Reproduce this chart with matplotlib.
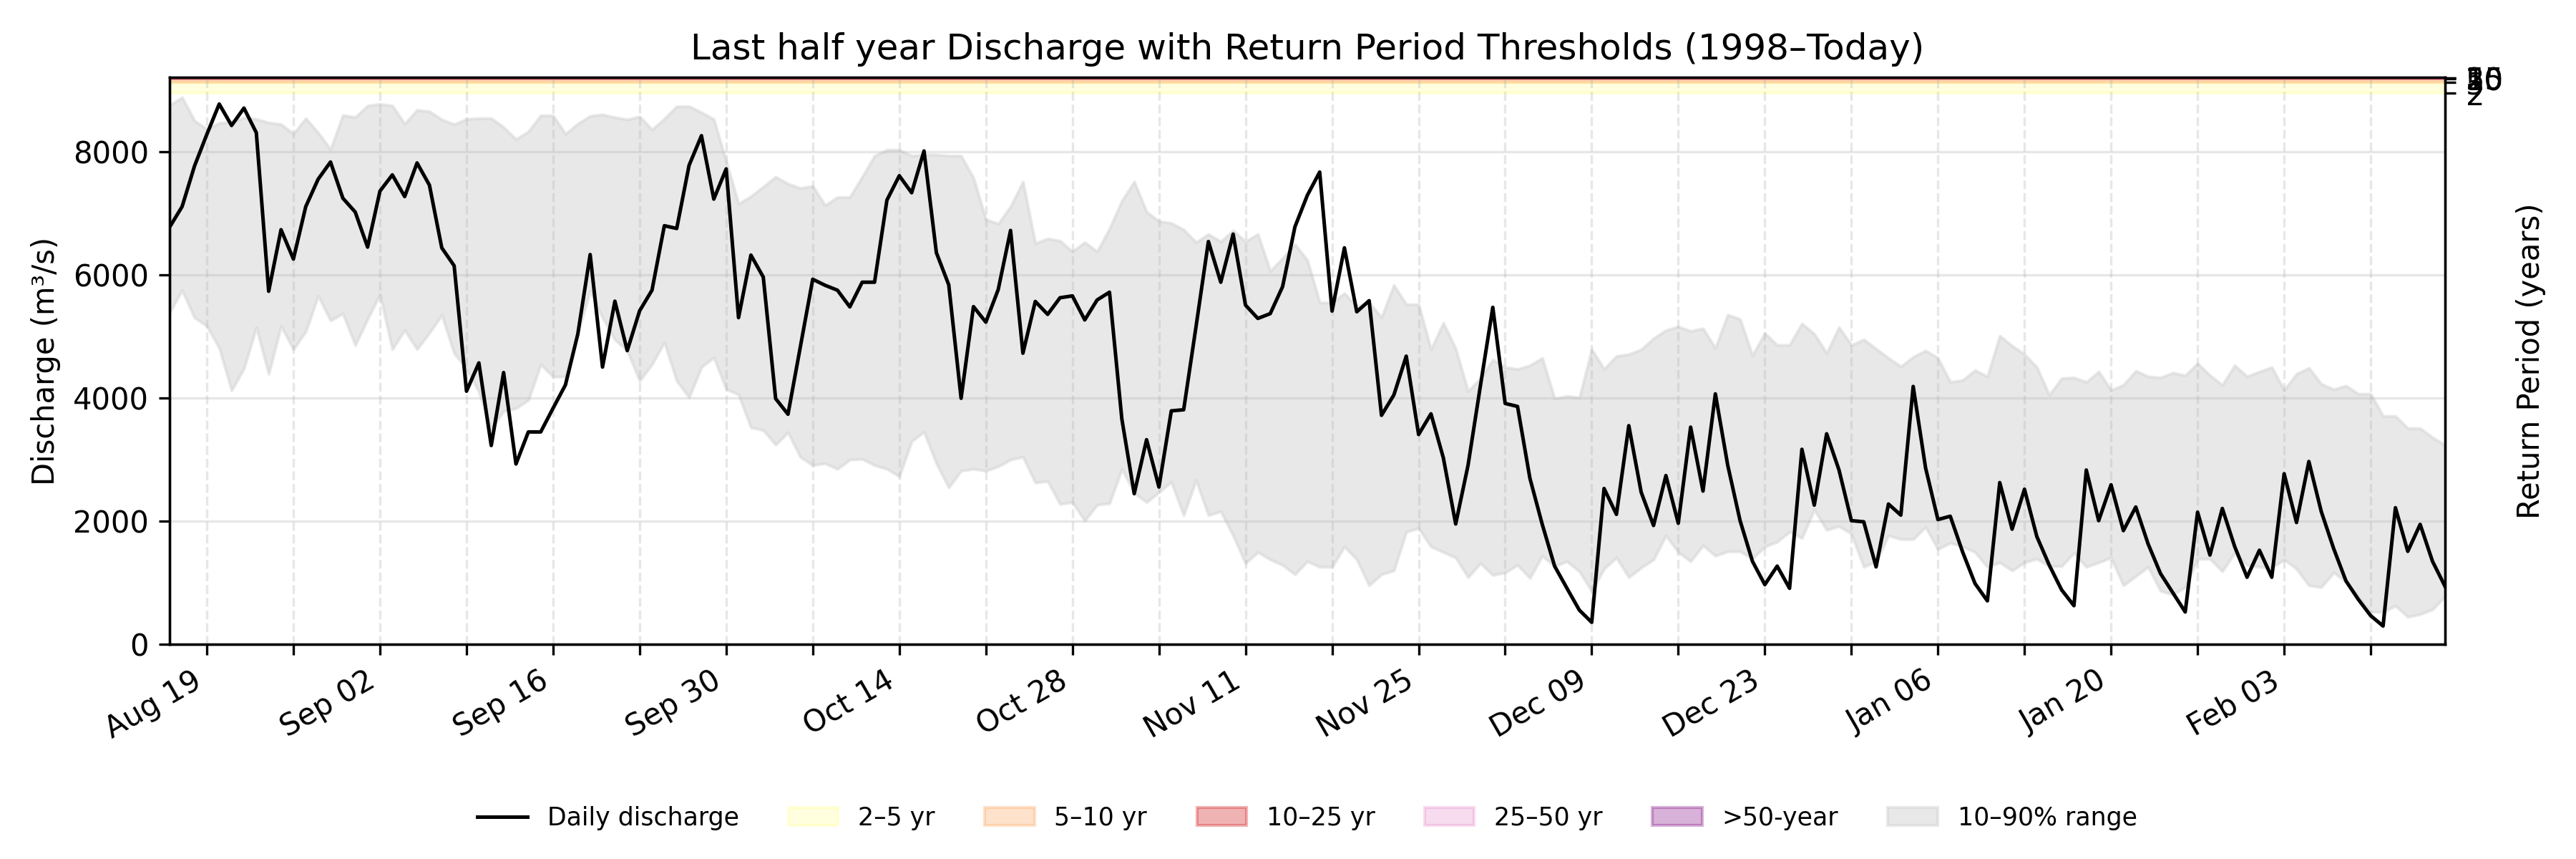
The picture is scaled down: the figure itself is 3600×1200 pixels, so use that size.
import numpy as np
import pandas as pd
import matplotlib
matplotlib.use("Agg")
import matplotlib.pyplot as plt
from matplotlib.lines import Line2D
from matplotlib.patches import Patch

# Daily series, 2024-08-16 .. 2025-02-16
start_date = "2024-08-16"

discharge = [
    6778, 7108, 7765, 8280, 8772, 8424, 8706, 8307, 5733, 6732,
    6256, 7108, 7552, 7831, 7243, 7019, 6450, 7359, 7622, 7270,
    7816, 7456, 6438, 6147, 4111, 4570, 3230, 4414, 2930, 3450,
    3450, 3835, 4213, 5037, 6329, 4503, 5572, 4770, 5416, 5750,
    6797, 6752, 7777, 8258, 7229, 7719, 5305, 6320, 5964, 3991,
    3737, 4833, 5928, 5830, 5750, 5480, 5880, 5880, 7212, 7608,
    7332, 8010, 6360, 5838, 3996, 5484, 5232, 5760, 6720, 4728,
    5568, 5358, 5628, 5658, 5268, 5592, 5718, 3660, 2448, 3324,
    2556, 3792, 3810, 5160, 6540, 5880, 6660, 5508, 5292, 5370,
    5808, 6780, 7290, 7668, 5412, 6438, 5400, 5580, 3720, 4050,
    4680, 3408, 3744, 3030, 1956, 2910, 4200, 5472, 3912, 3864,
    2700, 1950, 1272, 912, 558, 360, 2532, 2112, 3552, 2472,
    1932, 2742, 1968, 3528, 2490, 4068, 2910, 2010, 1350, 972,
    1272, 912, 3168, 2262, 3420, 2832, 2010, 1992, 1260, 2280,
    2100, 4188, 2868, 2028, 2082, 1500, 990, 708, 2628, 1872,
    2520, 1752, 1290, 888, 630, 2832, 2010, 2592, 1848, 2232,
    1632, 1152, 840, 528, 2148, 1452, 2208, 1590, 1092, 1530,
    1092, 2772, 1980, 2970, 2160, 1560, 1032, 732, 468, 300,
    2220, 1512, 1950, 1350, 948,
]

q90 = [
    8753, 8880, 8501, 8365, 8462, 8481, 8552, 8528, 8470, 8443,
    8288, 8540, 8307, 8036, 8590, 8559, 8745, 8772, 8745, 8451,
    8675, 8652, 8521, 8443, 8528, 8540, 8540, 8397, 8199, 8327,
    8586, 8586, 8288, 8451, 8579, 8601, 8556, 8521, 8570, 8356,
    8534, 8734, 8734, 8636, 8525, 7839, 7153, 7273, 7429, 7590,
    7478, 7407, 7440, 7128, 7260, 7260, 7590, 7932, 8028, 8028,
    7932, 7950, 7950, 7932, 7932, 7572, 6900, 6828, 7110, 7512,
    6510, 6588, 6552, 6378, 6528, 6378, 6750, 7200, 7512, 7020,
    6870, 6840, 6732, 6528, 6660, 6540, 6720, 6540, 6660, 6060,
    6270, 6492, 6240, 5550, 5550, 5700, 5490, 5550, 5310, 5832,
    5520, 5520, 4788, 5220, 4800, 4110, 4320, 4620, 4500, 4470,
    4530, 4650, 3990, 4032, 4008, 4788, 4470, 4680, 4710, 4788,
    4968, 5100, 5160, 5088, 5130, 4812, 5352, 5280, 4692, 5052,
    4860, 4860, 5208, 5040, 4728, 5148, 4860, 4950, 4800, 4650,
    4512, 4668, 4770, 4650, 4260, 4290, 4452, 4350, 5010, 4848,
    4710, 4500, 4050, 4320, 4332, 4260, 4428, 4128, 4212, 4440,
    4350, 4332, 4410, 4368, 4560, 4368, 4212, 4530, 4350, 4428,
    4500, 4128, 4392, 4488, 4230, 4140, 4200, 4068, 4068, 3708,
    3708, 3510, 3510, 3360, 3240,
]

q10 = [
    5394, 5750, 5305, 5171, 4815, 4125, 4481, 5149, 4392, 5171,
    4793, 5082, 5661, 5260, 5372, 4859, 5283, 5683, 4793, 5104,
    4793, 5060, 5349, 4726, 4481, 4102, 3501, 3790, 3835, 3968,
    4548, 4347, 4347, 5060, 5741, 5305, 4948, 4770, 4280, 4548,
    4904, 4280, 4013, 4503, 4659, 4147, 4058, 3523, 3480, 3244,
    3444, 3044, 2910, 2940, 2850, 3000, 3012, 2910, 2850, 2730,
    3300, 3450, 2940, 2550, 2820, 2850, 2820, 2892, 3000, 3048,
    2628, 2652, 2280, 2310, 2010, 2268, 2292, 2850, 2460, 2310,
    2472, 2640, 2100, 2670, 2100, 2160, 1770, 1320, 1500, 1380,
    1290, 1140, 1350, 1260, 1260, 1590, 1380, 960, 1140, 1200,
    1830, 1890, 1590, 1500, 1410, 1092, 1320, 1128, 1170, 1290,
    1080, 1440, 1272, 1350, 1188, 870, 1230, 1410, 1092, 1248,
    1380, 1770, 1500, 1350, 1608, 1440, 1512, 1512, 1392, 1590,
    1668, 1830, 1728, 2190, 1860, 1920, 1800, 1260, 1350, 1770,
    1710, 1710, 1908, 1548, 1650, 1590, 1500, 1260, 1332, 1200,
    1332, 1392, 1272, 1272, 1488, 1260, 1332, 1410, 960, 1110,
    1260, 870, 810, 930, 1392, 1392, 1188, 1488, 1290, 1260,
    1248, 1380, 1230, 960, 930, 1170, 1020, 780, 528, 528,
    630, 450, 492, 570, 780,
]

# Return period thresholds (m3/s)
rp_years = [2, 5, 10, 25, 50]
rp_values = [8945, 9120, 9180, 9192, 9198]
band_labels = ["2–5 yr", "5–10 yr", "10–25 yr", "25–50 yr", ">50-year"]
band_colors = ["yellow", "#fdae6b", "tab:red", "#e377c2", "purple"]
band_alphas = [0.12, 0.35, 0.35, 0.25, 0.3]
y_top = 9200

dates = pd.date_range(start_date, periods=len(discharge), freq="D")

fig = plt.figure(figsize=(12, 4), dpi=300)
ax = fig.add_subplot(111)
fig.subplots_adjust(left=0.0659, right=0.9491, top=0.9096, bottom=0.2497)

# threshold bands
edges = rp_values + [y_top]
for k in range(len(rp_values)):
    ax.axhspan(edges[k], edges[k + 1], color=band_colors[k], alpha=band_alphas[k])

ax.fill_between(dates, q10, q90, color="lightgray", alpha=0.5)
ax.plot(dates, discharge, color="black", linewidth=1.2)

ax.set_xlim(dates[0], dates[-1])
ax.set_ylim(0, y_top)
ax.set_yticks([0, 2000, 4000, 6000, 8000])

# weekly ticks, label every second one
ticks = pd.date_range("2024-08-19", dates[-1], freq="7D")
ax.set_xticks(ticks)
ax.set_xticklabels([d.strftime("%b %d") if k % 2 == 0 else "" for k, d in enumerate(ticks)],
                   rotation=30, ha="right")

ax.grid(True, axis="y", alpha=0.3)
ax.grid(True, axis="x", linestyle="--", alpha=0.3)

ax.set_ylabel("Discharge (m³/s)")
ax.set_title("Last half year Discharge with Return Period Thresholds (1998–Today)")

ax2 = ax.twinx()
ax2.set_ylim(ax.get_ylim())
ax2.set_yticks(rp_values)
ax2.set_yticklabels([str(y) for y in rp_years])
ax2.set_ylabel("Return Period (years)")

handles = [Line2D([], [], color="black", linewidth=1.2)]
for k in range(len(band_labels)):
    handles.append(Patch(facecolor=band_colors[k], edgecolor=band_colors[k], alpha=band_alphas[k]))
handles.append(Patch(facecolor="lightgray", edgecolor="lightgray", alpha=0.5))
labels = ["Daily discharge"] + band_labels + ["10–90% range"]
ax.legend(handles, labels, loc="center", bbox_to_anchor=(0.5, -0.306), ncol=7,
          frameon=False, fontsize="small")

fig.savefig("out.png", dpi=300)
